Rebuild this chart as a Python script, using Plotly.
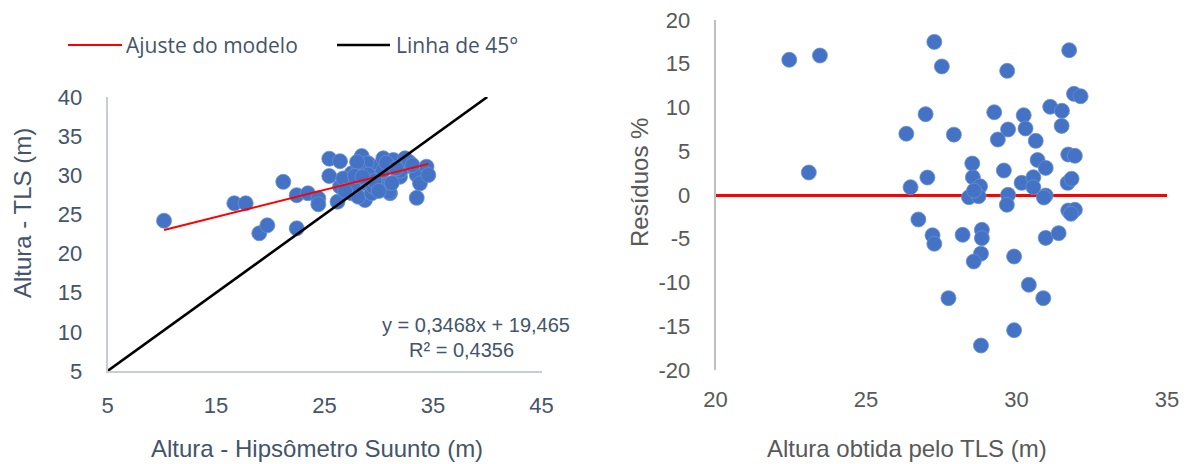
import plotly.graph_objects as go

# Tree heights: Suunto hypsometer (x) vs terrestrial laser scanner (y), in metres
suunto_height = [
    10.21, 16.69, 17.74, 18.99, 19.73, 21.20, 22.44, 22.44, 23.47, 24.43,
    24.43, 25.44, 26.43, 25.44, 26.43, 26.20, 27.50, 27.50, 28.43, 29.04,
    28.73, 28.73, 28.12, 29.96, 30.12, 30.42, 30.73, 31.04, 31.35, 31.80,
    32.42, 32.42, 31.96, 33.50, 33.80, 33.50, 34.40, 34.57, 27.96, 27.20,
    29.81, 29.35, 26.73, 27.65, 28.88, 29.50, 30.97, 32.00, 28.20, 29.00,
    30.40, 31.20, 26.90, 28.00, 30.70, 32.80, 27.80, 29.60, 33.10, 30.00,
    28.50, 31.60,
]
tls_height = [
    24.20, 26.42, 26.42, 22.59, 23.61, 29.16, 27.46, 23.22, 27.70, 27.06,
    26.30, 32.12, 31.80, 29.90, 28.54, 26.62, 30.25, 27.70, 32.45, 31.53,
    28.97, 26.84, 27.26, 31.10, 29.18, 32.17, 28.12, 27.70, 31.95, 30.25,
    32.17, 31.10, 29.81, 30.03, 28.97, 27.12, 31.10, 30.03, 29.39, 28.97,
    29.81, 27.70, 29.60, 28.54, 31.53, 28.54, 27.90, 30.60, 30.80, 30.10,
    30.60, 29.00, 28.00, 31.70, 31.60, 31.70, 29.90, 29.30, 31.30, 28.00,
    29.80, 30.90,
]

# Linear fit reported for the model
fit_slope = 0.3468
fit_intercept = 19.465
fit_r2 = 0.4356

# Reference 1:1 line over the axis range
line45 = [5, 40]

# Residuals (%) against TLS height
resid_tls = [
    22.45, 23.47, 23.10, 27.27, 27.52, 26.98, 26.34, 27.92, 27.04, 26.48,
    26.74, 31.75, 29.69, 29.26, 30.24, 31.12, 31.51, 31.91, 32.13, 31.50,
    29.72, 30.30, 29.38, 30.64, 28.53, 29.58, 30.70, 30.97, 31.72, 31.94,
    28.55, 28.79, 28.42, 28.74, 28.59, 29.72, 29.68, 30.17, 30.56, 30.56,
    30.97, 30.91, 31.70, 31.83, 31.72, 31.94, 31.81, 27.21, 27.27, 28.21,
    28.85, 28.85, 28.82, 28.58, 29.92, 30.97, 31.40, 30.41, 30.89, 27.74,
    29.92, 28.82,
]
resid_pct = [
    15.45, 15.94, 2.57, 17.50, 14.69, 9.24, 7.00, 6.90, 2.00, 0.89,
    -2.80, 16.55, 14.19, 9.46, 9.12, 10.08, 9.62, 11.56, 11.29, 7.90,
    7.49, 7.60, 6.34, 6.19, 3.60, 2.80, 4.00, 3.10, 4.63, 4.48,
    2.03, 1.00, -0.25, -0.13, 0.50, 0.02, -1.12, 1.39, 2.03, 0.89,
    -0.06, -0.29, 1.39, 1.85, -1.77, -1.69, -2.15, -4.60, -5.57, -4.55,
    -3.98, -4.93, -6.70, -7.60, -7.03, -4.90, -4.36, -10.26, -11.79, -11.79,
    -15.45, -17.20,
]

# Tick values for each axis
suunto_ticks = [5, 15, 25, 35, 45]
tls_ticks = [5, 10, 15, 20, 25, 30, 35, 40]
resid_x_ticks = [20, 25, 30, 35]
resid_y_ticks = [-20, -15, -10, -5, 0, 5, 10, 15, 20]

BLUE = "#4472C4"
SLATE = "#44546A"
GREY = "#595959"
FONT = "Liberation Sans, Arial, sans-serif"
LEGEND_FONT = "Open Sans, sans-serif"
W, H = 1191, 464

fit_x = [min(suunto_height), max(suunto_height)]
fit_y = [fit_slope * v + fit_intercept for v in fit_x]

fig = go.Figure()

fig.add_trace(go.Scatter(
    x=suunto_height, y=tls_height, mode="markers", xaxis="x", yaxis="y",
    marker=dict(size=15, color=BLUE, line=dict(width=0.8, color="#6B8FD3")),
    showlegend=False, hoverinfo="x+y",
))
fig.add_trace(go.Scatter(
    x=fit_x, y=fit_y, mode="lines", xaxis="x", yaxis="y",
    line=dict(color="#FF0000", width=2), name="Ajuste do modelo", showlegend=False,
))
fig.add_trace(go.Scatter(
    x=line45, y=line45, mode="lines", xaxis="x", yaxis="y",
    line=dict(color="#000000", width=2.6), name="Linha de 45°", showlegend=False,
))
fig.add_trace(go.Scatter(
    x=resid_tls, y=resid_pct, mode="markers", xaxis="x2", yaxis="y2",
    marker=dict(size=15, color=BLUE, line=dict(width=0.8, color="#6B8FD3")),
    showlegend=False, hoverinfo="x+y",
))


def px_x(p):
    return p / W


def px_y(p):
    return 1 - p / H


tick_font_l = dict(family=FONT, size=22, color=SLATE)
tick_font_r = dict(family=FONT, size=22, color=GREY)

common = dict(showgrid=False, ticks="", automargin=False)

fig.update_layout(
    width=W, height=H,
    margin=dict(l=0, r=0, t=0, b=0, pad=0, autoexpand=False),
    paper_bgcolor="white", plot_bgcolor="white",
    showlegend=False,
    xaxis=dict(
        domain=[px_x(107.5), px_x(541.5)], range=[5, 45],
        tickvals=suunto_ticks, ticktext=[str(v) for v in suunto_ticks],
        zeroline=False, showline=True, linecolor="#C5CDD9", linewidth=1.5,
        tickfont=tick_font_l, ticklabelstandoff=14, anchor="y", **common,
    ),
    yaxis=dict(
        domain=[px_y(371), px_y(97)], range=[5, 40],
        tickvals=tls_ticks, ticktext=[str(v) for v in tls_ticks],
        zeroline=False, showline=True, linecolor="#C5CDD9", linewidth=1.5,
        tickfont=tick_font_l, ticklabelstandoff=19, anchor="x", **common,
    ),
    xaxis2=dict(
        domain=[px_x(715.5), px_x(1167)], range=[20, 35],
        tickvals=resid_x_ticks, ticktext=[str(v) for v in resid_x_ticks],
        zeroline=False, showline=False,
        tickfont=tick_font_r, ticklabelstandoff=14, anchor="y2", **common,
    ),
    yaxis2=dict(
        domain=[px_y(370), px_y(20)], range=[-20, 20],
        tickvals=resid_y_ticks, ticktext=[str(v) for v in resid_y_ticks],
        zeroline=True, zerolinecolor="#FF0000", zerolinewidth=2.5,
        showline=True, linecolor="#BFBFBF", linewidth=1.5,
        tickfont=tick_font_r, ticklabelstandoff=19, anchor="x2", **common,
    ),
)

annotations = [
    # axis titles
    dict(text="Altura - Hipsômetro Suunto (m)", x=px_x(317), y=px_y(448),
         font=dict(family=FONT, size=24, color=SLATE)),
    dict(text="Altura - TLS (m)", x=px_x(22), y=px_y(213), textangle=-90,
         font=dict(family=FONT, size=24, color=SLATE)),
    dict(text="Altura obtida pelo TLS (m)", x=px_x(907), y=px_y(448),
         font=dict(family=FONT, size=24, color=GREY)),
    dict(text="Resíduos %", x=px_x(639), y=px_y(183), textangle=-90,
         font=dict(family=FONT, size=24, color=GREY)),
    # fit equation
    dict(text=f"y = {fit_slope:.4f}x + {fit_intercept:.3f}".replace(".", ","),
         x=px_x(475.5), y=px_y(325), font=dict(family=FONT, size=20, color=SLATE)),
    dict(text=f"R² = {fit_r2:.4f}".replace(".", ","),
         x=px_x(461.5), y=px_y(350), font=dict(family=FONT, size=20, color=SLATE)),
    # legend labels
    dict(text="Ajuste do modelo", x=px_x(125), y=px_y(45), xanchor="left",
         font=dict(family=LEGEND_FONT, size=21, color=SLATE)),
    dict(text="Linha de 45°", x=px_x(395), y=px_y(45), xanchor="left",
         font=dict(family=LEGEND_FONT, size=21, color=SLATE)),
]
for a in annotations:
    a.setdefault("xanchor", "center")
    a.update(xref="paper", yref="paper", yanchor="middle", showarrow=False,
             borderpad=0)
fig.update_layout(annotations=annotations)

# legend swatches
fig.add_shape(type="line", xref="paper", yref="paper",
              x0=px_x(68), x1=px_x(122), y0=px_y(45), y1=px_y(45),
              line=dict(color="#FF0000", width=2))
fig.add_shape(type="line", xref="paper", yref="paper",
              x0=px_x(337), x1=px_x(390), y0=px_y(45), y1=px_y(45),
              line=dict(color="#000000", width=2.6))

fig.write_html("out.html")
